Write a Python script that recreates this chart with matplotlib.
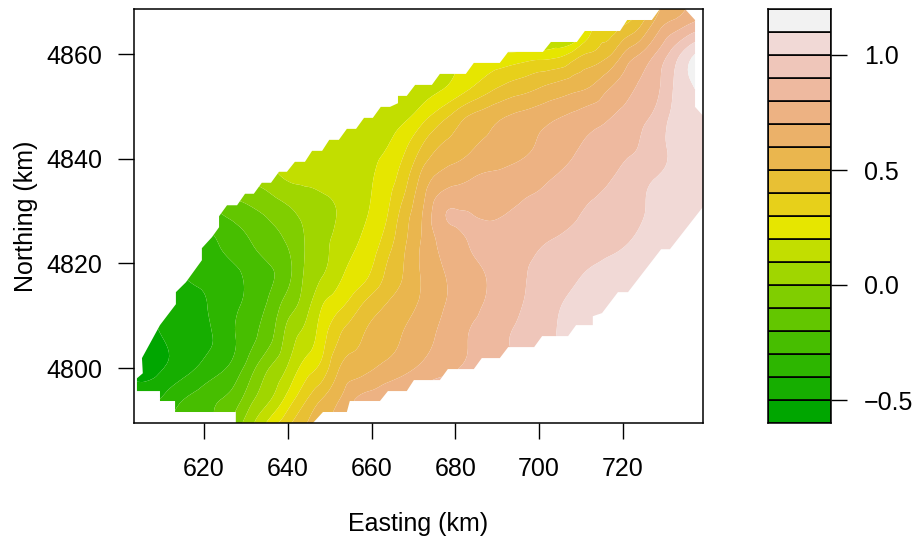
import colorsys

import matplotlib
matplotlib.use("Agg")
import matplotlib.pyplot as plt
import matplotlib.tri as mtri
import numpy as np
from matplotlib.patches import Polygon

plt.rcParams['font.family'] = ['Liberation Sans', 'DejaVu Sans']
plt.rcParams['font.size'] = 18

# Grid of the surface, km
easting = [604, 608, 612, 616, 620, 624, 628, 632, 636, 640, 644, 648, 652, 656, 660, 664, 668, 672,
           676, 680, 684, 688, 692, 696, 700, 704, 708, 712, 716, 720, 724, 728, 732, 736, 740]
northing = [4788, 4794, 4800, 4806, 4812, 4818, 4824, 4830, 4836, 4842, 4848, 4854, 4860, 4866, 4872]

# One list per northing
z_4788 = [-0.35, -0.33, -0.30, -0.26, -0.25, -0.20, -0.02, 0.12, 0.29, 0.41, 0.51, 0.58, 0.63, 0.68, 0.72, 0.75, 0.78, 0.80,
          0.82, 0.84, 0.86, 0.88, 0.90, 0.92, 0.94, 0.96, 0.98, 1.00, 1.02, 1.04, 1.06, 1.08, 1.08, 1.08, 1.08]
z_4794 = [-0.40, -0.41, -0.35, -0.29, -0.25, -0.20, -0.13, 0.00, 0.10, 0.24, 0.38, 0.50, 0.59, 0.70, 0.74, 0.78, 0.82, 0.85,
          0.88, 0.90, 0.92, 0.94, 0.96, 0.98, 1.00, 1.02, 1.04, 1.06, 1.08, 1.08, 1.08, 1.08, 1.08, 1.08, 1.08]
z_4800 = [-0.56, -0.53, -0.48, -0.43, -0.37, -0.32, -0.24, -0.11, 0.01, 0.11, 0.24, 0.33, 0.49, 0.55, 0.59, 0.63, 0.67, 0.72,
          0.76, 0.79, 0.83, 0.86, 0.90, 0.93, 0.98, 1.01, 1.03, 1.05, 1.06, 1.07, 1.08, 1.08, 1.08, 1.08, 1.08]
z_4806 = [-0.55, -0.52, -0.48, -0.45, -0.42, -0.37, -0.29, -0.21, -0.12, 0.04, 0.13, 0.25, 0.39, 0.47, 0.53, 0.57, 0.61, 0.66,
          0.71, 0.76, 0.81, 0.84, 0.89, 0.92, 0.96, 1.00, 1.03, 1.06, 1.08, 1.09, 1.09, 1.09, 1.09, 1.09, 1.09]
z_4812 = [-0.50, -0.48, -0.47, -0.45, -0.41, -0.36, -0.31, -0.25, -0.17, -0.05, 0.05, 0.19, 0.27, 0.36, 0.45, 0.51, 0.56, 0.62,
          0.68, 0.73, 0.77, 0.82, 0.86, 0.90, 0.95, 0.99, 1.02, 1.05, 1.07, 1.08, 1.08, 1.08, 1.08, 1.08, 1.08]
z_4818 = [-0.45, -0.44, -0.43, -0.39, -0.38, -0.34, -0.31, -0.26, -0.21, -0.13, 0.01, 0.09, 0.17, 0.24, 0.31, 0.43, 0.51, 0.61,
          0.68, 0.73, 0.77, 0.81, 0.85, 0.89, 0.92, 0.95, 0.98, 1.01, 1.03, 1.05, 1.07, 1.08, 1.08, 1.08, 1.08]
z_4824 = [-0.40, -0.40, -0.38, -0.36, -0.34, -0.29, -0.24, -0.19, -0.14, -0.09, 0.00, 0.07, 0.13, 0.19, 0.25, 0.36, 0.49, 0.61,
          0.71, 0.77, 0.81, 0.83, 0.85, 0.87, 0.89, 0.91, 0.93, 0.95, 0.97, 0.99, 1.02, 1.04, 1.05, 1.06, 1.06]
z_4830 = [-0.30, -0.30, -0.30, -0.30, -0.25, -0.19, -0.15, -0.11, -0.07, -0.02, 0.03, 0.06, 0.105, 0.155, 0.21, 0.30, 0.45, 0.59,
          0.76, 0.805, 0.795, 0.785, 0.795, 0.815, 0.83, 0.85, 0.88, 0.91, 0.93, 0.96, 0.99, 1.02, 1.04, 1.05, 1.06]
z_4836 = [-0.20, -0.20, -0.20, -0.15, -0.10, -0.05, 0.00, 0.02, 0.06, 0.105, 0.115, 0.13, 0.145, 0.165, 0.195, 0.26, 0.37, 0.53,
          0.63, 0.67, 0.705, 0.73, 0.74, 0.76, 0.78, 0.81, 0.84, 0.87, 0.89, 0.93, 0.97, 1.005, 1.02, 1.03, 1.04]
z_4842 = [-0.10, -0.10, -0.05, 0.00, 0.05, 0.08, 0.10, 0.11, 0.12, 0.13, 0.14, 0.155, 0.16, 0.165, 0.18, 0.205, 0.29, 0.41,
          0.505, 0.55, 0.595, 0.62, 0.65, 0.68, 0.71, 0.74, 0.785, 0.82, 0.85, 0.88, 0.905, 0.96, 1.02, 1.05, 1.06]
z_4848 = [0.00, 0.00, 0.02, 0.04, 0.06, 0.08, 0.09, 0.10, 0.11, 0.11, 0.12, 0.12, 0.13, 0.13, 0.14, 0.15, 0.18, 0.26,
          0.35, 0.44, 0.52, 0.56, 0.60, 0.63, 0.66, 0.69, 0.72, 0.755, 0.785, 0.83, 0.87, 0.93, 1.02, 1.06, 1.10]
z_4854 = [0.05, 0.05, 0.06, 0.06, 0.06, 0.07, 0.07, 0.07, 0.07, 0.08, 0.08, 0.08, 0.08, 0.08, 0.08, 0.09, 0.10, 0.14,
          0.18, 0.225, 0.29, 0.355, 0.41, 0.445, 0.485, 0.52, 0.555, 0.59, 0.67, 0.74, 0.81, 0.875, 1.00, 1.09, 1.15]
z_4860 = [0.05, 0.05, 0.05, 0.05, 0.05, 0.05, 0.05, 0.06, 0.06, 0.06, 0.07, 0.07, 0.07, 0.08, 0.08, 0.09, 0.10, 0.12,
          0.14, 0.16, 0.18, 0.20, 0.21, 0.225, 0.24, 0.26, 0.33, 0.41, 0.47, 0.60, 0.70, 0.81, 0.94, 1.07, 1.15]
z_4866 = [0.00, 0.00, 0.00, 0.00, 0.00, 0.00, 0.00, 0.00, 0.00, 0.00, 0.00, 0.00, 0.00, 0.00, 0.00, 0.00, 0.00, 0.00,
          0.00, 0.00, 0.00, 0.00, 0.00, 0.00, 0.00, 0.05, 0.00, 0.25, 0.31, 0.38, 0.47, 0.63, 0.72, 0.79, 0.85]
z_4872 = [0.20, 0.20, 0.20, 0.20, 0.20, 0.20, 0.20, 0.20, 0.20, 0.20, 0.20, 0.20, 0.20, 0.20, 0.20, 0.20, 0.20, 0.20,
          0.20, 0.20, 0.20, 0.20, 0.20, 0.20, 0.20, 0.20, 0.20, 0.25, 0.30, 0.35, 0.45, 0.57, 0.64, 0.72, 0.80]

# Outline of the area with predictions, km
edge_east = [627.6, 627.6, 613.1, 613.1, 609.5, 609.5, 603.5, 603.5, 605.4, 605.2, 609.5, 613.3, 613.3, 615.7, 619.5,
             619.5, 621.9, 623.6, 623.6, 625.5, 627.9, 629.8, 631.9, 633.8, 636.0, 637.9, 639.8, 641.7, 644.1, 645.8,
             648.2, 649.9, 652.2, 654.1, 656.3, 658.2, 660.3, 662.2, 664.4, 666.3, 666.3, 668.4, 670.4, 674.4, 676.3,
             682.5, 684.4, 690.6, 692.6, 700.9, 702.8, 709.0, 710.9, 719.3, 721.0, 726.9, 728.8, 734.8, 737.2, 737.2,
             739.1, 739.1, 731.2, 729.1, 721.2, 718.8, 715.0, 712.8, 712.8, 708.8, 706.9, 700.7, 698.8, 692.6, 690.6,
             686.3, 684.4, 678.2, 676.3, 670.1, 668.4, 663.9, 662.0, 654.8, 654.1, 648.4, 646.0]
edge_north = [4789.5, 4791.6, 4791.6, 4793.7, 4793.7, 4795.6, 4795.6, 4797.7, 4799.0, 4801.9, 4808.2, 4812.2, 4814.5, 4816.4, 4820.6,
              4822.9, 4825.0, 4826.9, 4829.0, 4831.1, 4831.1, 4833.3, 4833.3, 4835.4, 4835.4, 4837.5, 4837.5, 4839.4, 4839.4, 4841.5,
              4841.5, 4843.6, 4843.6, 4845.7, 4845.7, 4847.8, 4847.8, 4849.9, 4849.9, 4850.6, 4852.0, 4852.0, 4854.1, 4854.1, 4856.2,
              4856.2, 4858.3, 4858.3, 4860.4, 4860.4, 4862.3, 4862.3, 4864.4, 4864.4, 4866.5, 4866.5, 4868.6, 4868.6, 4866.5, 4849.9,
              4848.2, 4830.8, 4822.7, 4822.7, 4814.5, 4814.5, 4810.5, 4809.9, 4808.2, 4808.2, 4806.1, 4806.1, 4804.0, 4804.0, 4801.9,
              4801.9, 4799.8, 4799.8, 4797.7, 4797.7, 4795.6, 4795.6, 4793.7, 4793.7, 4791.6, 4791.6, 4789.5]

levels = np.round(np.arange(-0.6, 1.21, 0.1), 1)
xticks = [620, 640, 660, 680, 700, 720]
yticks = [4800, 4820, 4840, 4860]
bar_ticks = [-0.5, 0.0, 0.5, 1.0]
bar_labels = ['\u22120.5', '0.0', '0.5', '1.0']


def terrain_colors(n):
    # same ramp as R's terrain.colors
    k = n // 2
    cols = []
    for i in range(k):
        t = i / (k - 1)
        cols.append(colorsys.hsv_to_rgb((4 - 2 * t) / 12, 1, 0.65 + 0.25 * t))
    for i in range(1, n - k + 1):
        t = i / (n - k)
        cols.append(colorsys.hsv_to_rgb((2 - 2 * t) / 12, 1 - t, 0.9 + 0.05 * t))
    return cols


colors = terrain_colors(len(levels) - 1)
Z = np.array([z_4788, z_4794, z_4800, z_4806, z_4812, z_4818, z_4824, z_4830,
              z_4836, z_4842, z_4848, z_4854, z_4860, z_4866, z_4872])

W, H = 921, 542
fig = plt.figure(figsize=(W / 100, H / 100), dpi=100)
ax = fig.add_axes([134 / W, 1 - 423 / H, 569 / W, 414 / H])
cax = fig.add_axes([768 / W, 1 - 423 / H, 63 / W, 414 / H])

# smooth contour lines, the library refines the triangulation
gx, gy = np.meshgrid(easting, northing)
tri = mtri.Triangulation(gx.ravel(), gy.ravel())
refiner = mtri.UniformTriRefiner(tri)
tri_fine, z_fine = refiner.refine_field(Z.ravel(), subdiv=3)
z_fine = np.clip(z_fine, -0.6, 1.2)

cs = ax.tricontourf(tri_fine, z_fine, levels=levels, colors=colors, antialiased=True)
outline = Polygon(np.column_stack([edge_east, edge_north]), closed=True, transform=ax.transData,
                  facecolor='none', edgecolor='none')
ax.add_patch(outline)
cs.set_clip_path(outline)

ax.set_xlim(603.3, 739.1)
ax.set_ylim(4789.5, 4868.6)
ax.set_xticks(xticks)
ax.set_yticks(yticks)
ax.tick_params(length=11.5, width=1)
ax.tick_params(axis='x', pad=13)
ax.tick_params(axis='y', pad=11.5)
ax.set_xlabel('Easting (km)', labelpad=22)
ax.set_ylabel('Northing (km)', labelpad=6)

cax.bar(0, np.diff(levels), bottom=levels[:-1], width=1, color=colors, edgecolor='black', linewidth=1.2)
cax.set_xlim(-0.5, 0.5)
cax.set_ylim(-0.6, 1.2)
cax.set_xticks([])
cax.yaxis.tick_right()
cax.set_yticks(bar_ticks)
cax.set_yticklabels(bar_labels)
cax.tick_params(length=11.5, width=1, pad=12)

for a in (ax, cax):
    for s in a.spines.values():
        s.set_linewidth(1.1)

fig.savefig('out.png', dpi=100)
